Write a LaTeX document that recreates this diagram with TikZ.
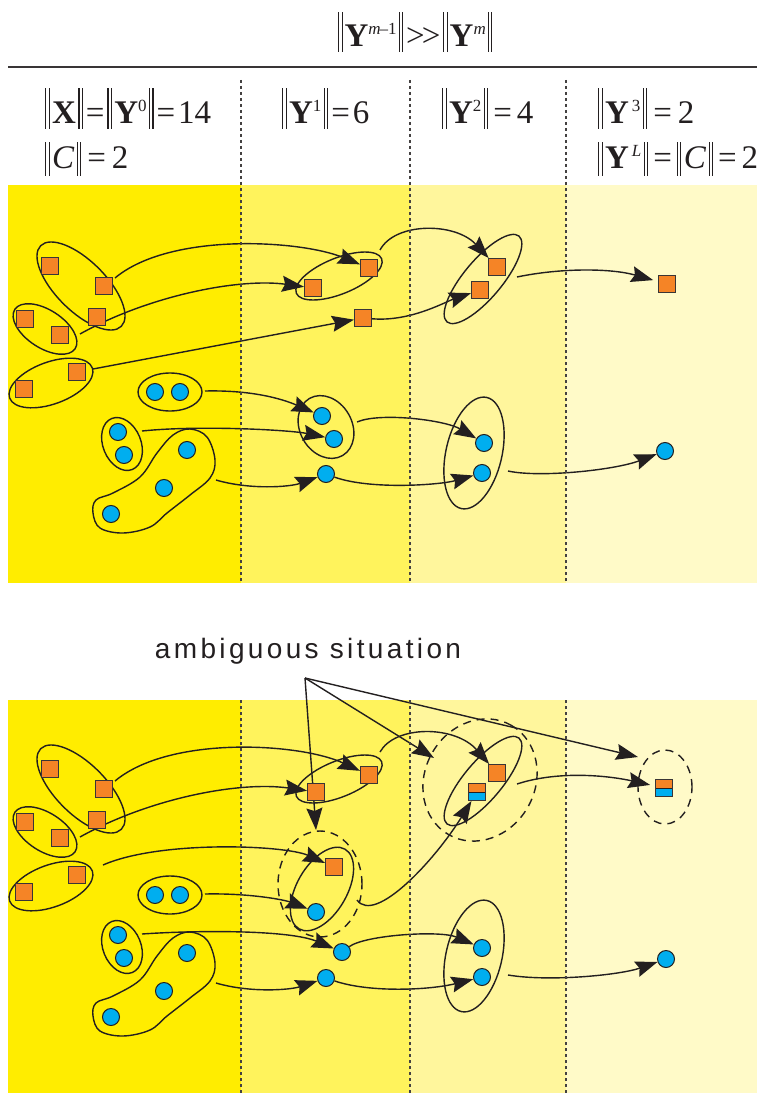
\documentclass[tikz,border=0pt]{standalone}
\usepackage{fontspec}
\setmainfont{Liberation Serif}
\newfontfamily\ambfont{Liberation Sans}[LetterSpace=12]
\usetikzlibrary{arrows.meta,shapes.geometric}
\definecolor{colA}{HTML}{FFED00}
\definecolor{colB}{HTML}{FFF35C}
\definecolor{colC}{HTML}{FFF69C}
\definecolor{colD}{HTML}{FFFAC8}
\definecolor{orng}{HTML}{F58426}
\definecolor{blu}{HTML}{00AEEF}
\definecolor{ink}{HTML}{231F20}
\pgfdeclarelayer{bg}
\pgfdeclarelayer{lines}
\pgfsetlayers{bg,lines,main}
% double bar of given depth / total height
\newcommand\vb[2]{\rule[-#1pt]{1.1pt}{#2pt}\kern2.2pt\rule[-#1pt]{1.1pt}{#2pt}}
\newcommand\nrmA[1]{\vb{5}{41}\kern2.5pt#1\kern2.5pt\vb{5}{41}}
\newcommand\nrmB[1]{\vb{8}{34}\kern2.5pt#1\kern2.5pt\vb{8}{34}}
\newcommand\nrmT[1]{\vb{5}{40}\kern2pt#1\kern2pt\vb{5}{40}}
\newcommand\supr[1]{\raisebox{12pt}{\fontsize{17}{17}\selectfont #1}}
\newcommand\suprT[1]{\raisebox{12pt}{\fontsize{17}{17}\selectfont #1}}
\newcommand\bY{\textbf{Y}}
\tikzset{
 sq/.style={draw=ink!90, fill=orng, minimum size=17pt, inner sep=0pt, line width=1pt},
 splitsq/.style={sq, path picture={\fill[blu] (path picture bounding box.west) rectangle (path picture bounding box.south east);
   \draw[ink, line width=0.9pt] (path picture bounding box.west) -- (path picture bounding box.east);}},
 ci/.style={circle, draw=ink, fill=blu, minimum size=17pt, inner sep=0pt, line width=1pt},
 grp/.style={draw=ink, line width=1.4pt},
 dgrp/.style={draw=ink, line width=1.4pt, dash pattern=on 8pt off 6pt},
 arr/.style={draw=ink, line width=1.4pt, -{Stealth[length=22pt,width=16pt,inset=3pt]}},
 sepline/.style={draw=ink!85, line width=1.2pt, dash pattern=on 3pt off 3pt},
 hdr/.style={font=\fontsize{33}{36}\selectfont, inner sep=0pt, text=ink, anchor=base west},
}
\newcommand\colone[2]{%
\begin{scope}[shift={(0,#2)}]
\node[sq] (#1s1) at (50,266) {};
\node[sq] (#1s2) at (104,286) {};
\node[sq] (#1s3) at (25,319) {};
\node[sq] (#1s4) at (60,335) {};
\node[sq] (#1s5) at (97,317) {};
\node[sq] (#1s6) at (24,389) {};
\node[sq] (#1s7) at (77,372) {};
\node[ci] (#1c1) at (155,392) {};
\node[ci] (#1c2) at (180,392) {};
\node[ci] (#1c3) at (118,432) {};
\node[ci] (#1c4) at (124,455) {};
\node[ci] (#1c5) at (187,450) {};
\node[ci] (#1c6) at (164,488) {};
\node[ci] (#1c7) at (111,514) {};
\coordinate (#1a1) at (115,278);
\coordinate (#1a2) at (80,334);
\coordinate (#1a3) at (93,369);
\coordinate (#1a3b) at (103,362);
\coordinate (#1a7) at (205,391);
\coordinate (#1a8) at (142,431);
\coordinate (#1a9) at (216,480);
\begin{pgfonlayer}{lines}
\draw[grp, rotate around={-45:(81,286)}] (81,286) ellipse [x radius=57pt, y radius=25pt];
\draw[grp, rotate around={-33:(45,329)}] (45,329) ellipse [x radius=36pt, y radius=19pt];
\draw[grp, rotate around={20:(51,383)}] (51,383) ellipse [x radius=44pt, y radius=21pt];
\draw[grp] (170,392) ellipse [x radius=32pt, y radius=19pt];
\draw[grp, rotate around={-68:(122,444)}] (122,444) ellipse [x radius=27.5pt, y radius=19pt];
\draw[grp] plot[smooth cycle, tension=0.6] coordinates {(96,500) (113,493) (140,477) (157,453) (173,435) (190,429) (207,437) (215,460) (210,478) (190,495) (167,513) (150,527) (123,533) (100,528) (93,513)};
\end{pgfonlayer}
\end{scope}}
\begin{document}
\begin{tikzpicture}[x=1pt,y=-1pt]
\useasboundingbox (0,0) rectangle (765,1094);
\begin{pgfonlayer}{bg}
\fill[white] (0,0) rectangle (765,1094);
\foreach \ya/\yb in {185/583,700/1093}{
 \fill[colA] (8,\ya) rectangle (241,\yb);
 \fill[colB] (241,\ya) rectangle (410,\yb);
 \fill[colC] (410,\ya) rectangle (566,\yb);
 \fill[colD] (566,\ya) rectangle (757,\yb);
}
\end{pgfonlayer}
% header
\node[hdr] (ttl) at (338,47) {\nrmT{\bY\suprT{\textit{m}\kern-1pt--1}}\kern3pt>\kern-3pt>\kern3pt\nrmT{\bY\suprT{\textit{m}}}};
\draw[ink!90, line width=2pt] (8,67) -- (757,67);
\node[hdr] (h0) at (45,124) {\nrmA{\textbf{X}}\kern3pt=\kern3pt\nrmA{\bY\supr{0}}\kern3pt=\kern3pt14};
\node[hdr] (h1) at (282,124) {\nrmA{\bY\supr{1}}\kern3pt=\kern3pt6};
\node[hdr] (h2) at (442,124) {\nrmA{\bY\supr{2}}\kern5pt=\kern5pt4};
\node[hdr] (h3) at (598,124) {\nrmA{\bY\kern3pt\supr{3}}\kern6pt=\kern6pt2};
\node[hdr] (h4) at (45,168) {\nrmB{\textit{C}}\kern6pt=\kern6pt2};
\node[hdr] (h5) at (598,168) {\nrmB{\bY\kern3pt\supr{\textit{L}}}\kern5pt=\kern5pt\nrmB{\textit{C}}\kern5pt=\kern5pt2};
\foreach \xx in {241,410,566}{
 \draw[sepline] (\xx,80) -- (\xx,583);
 \draw[sepline] (\xx,700) -- (\xx,1093);
}
% column 1 (both panels)
\colone{t}{0}
\colone{b}{503}
% ---------- top panel, columns 2-4
\node[sq] (tS8) at (313,288) {};
\node[sq] (tS9) at (369,268) {};
\node[sq] (tS10) at (363,318) {};
\node[sq] (tS11) at (497,267) {};
\node[sq] (tS12) at (480,290) {};
\node[sq] (tS13) at (667,284) {};
\node[ci] (tC8) at (322,416) {};
\node[ci] (tC9) at (334,439) {};
\node[ci] (tC10) at (326,474) {};
\node[ci] (tC11) at (484,443) {};
\node[ci] (tC12) at (482,473) {};
\node[ci] (tC13) at (665,451) {};
\coordinate (ta4) at (380,250);
\coordinate (ta6) at (517,277);
\coordinate (ta10) at (357,422);
\coordinate (ta12) at (508,471);
% ---------- bottom panel, columns 2-4
\node[sq] (bS8) at (316,792) {};
\node[sq] (bS9) at (369,775) {};
\node[sq] (bS10) at (334,867) {};
\node[ci] (bC) at (316,912) {};
\node[sq] (bS11) at (497,773) {};
\node[splitsq] (bSP1) at (477,792) {};
\node[splitsq] (bSP2) at (664,788) {};
\node[ci] (bC8) at (342,952) {};
\node[ci] (bC9) at (326,978) {};
\node[ci] (bC11) at (482,948) {};
\node[ci] (bC12) at (482,977) {};
\node[ci] (bC13) at (666,959) {};
\coordinate (bb4) at (380,752);
\coordinate (bb5) at (357,900);
\coordinate (bb6) at (517,784);
\coordinate (bb12) at (508,975);
% ambiguous
\node[font=\ambfont\fontsize{28}{32}\selectfont, text=ink, inner sep=0pt] (amb) at (308,651) {ambiguous situation};
\coordinate (P) at (305,678);
\coordinate (t1) at (316,830);
\coordinate (t2) at (434,758);
\coordinate (t3) at (638,757);
\begin{pgfonlayer}{lines}
% top groups
\draw[grp, rotate around={22:(339,276)}] (339,276) ellipse [x radius=46pt, y radius=18pt];
\draw[grp, rotate around={-60:(326,427)}] (326,427) ellipse [x radius=33pt, y radius=26pt];
\draw[grp, rotate around={50:(483,279)}] (483,279) ellipse [x radius=56pt, y radius=19pt];
\draw[grp, rotate around={77:(474,453)}] (474,453) ellipse [x radius=57pt, y radius=28pt];
% top arrows
\draw[arr] (ta1) .. controls (170,232) and (300,240) .. (tS9);
\draw[arr] (ta2) .. controls (150,295) and (240,278) .. (tS8);
\draw[arr] (ta3) -- (tS10);
\draw[arr] (tS10) .. controls (410,322) and (445,302) .. (tS12);
\draw[arr] (ta4) .. controls (395,222) and (455,222) .. (tS11);
\draw[arr, shorten >=5pt] (ta6) .. controls (560,268) and (610,268) .. (tS13);
\draw[arr] (ta7) .. controls (250,390) and (280,398) .. (tC8);
\draw[arr] (ta8) .. controls (200,425) and (290,430) .. (tC9);
\draw[arr] (ta9) .. controls (250,490) and (290,487) .. (tC10);
\draw[arr] (ta10) .. controls (380,412) and (445,420) .. (tC11);
\draw[arr] (tC10) .. controls (370,490) and (440,485) .. (tC12);
\draw[arr] (ta12) .. controls (540,478) and (615,470) .. (tC13);
% bottom groups
\draw[grp, rotate around={22:(339,779)}] (339,779) ellipse [x radius=46pt, y radius=18pt];
\draw[grp, rotate around={60:(322,889)}] (322,889) ellipse [x radius=46pt, y radius=25pt];
\draw[dgrp] (320,884) ellipse [x radius=42pt, y radius=53pt];
\draw[grp, rotate around={50:(483,781)}] (483,781) ellipse [x radius=56pt, y radius=19pt];
\draw[dgrp, rotate around={60:(480,780)}] (480,780) ellipse [x radius=63pt, y radius=55pt];
\draw[grp, rotate around={77:(474,956)}] (474,956) ellipse [x radius=57pt, y radius=28pt];
\draw[dgrp] (665,787) ellipse [x radius=27pt, y radius=37pt];
% bottom arrows
\draw[arr] (ba1) .. controls (170,735) and (300,743) .. (bS9);
\draw[arr] (ba2) .. controls (150,798) and (240,781) .. (bS8);
\draw[arr] (ba3b) .. controls (160,840) and (285,845) .. (bS10);
\draw[arr] (bb4) .. controls (395,725) and (455,725) .. (bS11);
\draw[arr] (bb5) .. controls (375,925) and (435,860) .. (bSP1);
\draw[arr, shorten >=5pt] (bb6) .. controls (560,770) and (610,776) .. (bSP2);
\draw[arr] (ba7) .. controls (250,893) and (285,900) .. (bC);
\draw[arr] (ba8) .. controls (200,930) and (290,930) .. (bC8);
\draw[arr] (ba9) .. controls (250,993) and (290,990) .. (bC9);
\draw[arr] (bC8) .. controls (365,935) and (440,930) .. (bC11);
\draw[arr] (bC9) .. controls (370,993) and (430,990) .. (bC12);
\draw[arr] (bb12) .. controls (550,982) and (620,975) .. (bC13);
% ambiguous pointers
\draw[arr] (P) -- (t1);
\draw[arr] (P) -- (t2);
\draw[arr] (P) -- (t3);
\end{pgfonlayer}
\end{tikzpicture}
\end{document}
